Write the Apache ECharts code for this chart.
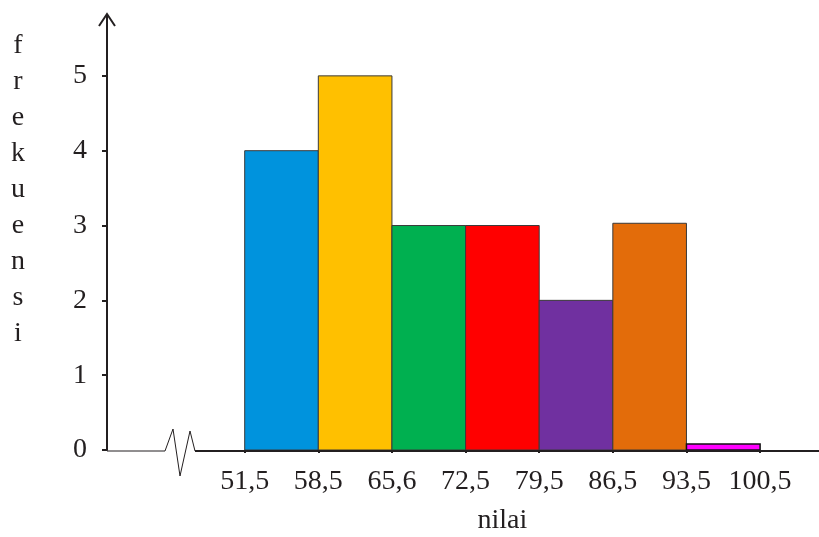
<!DOCTYPE html>
<html>
<head>
<meta charset="utf-8">
<script src="https://cdn.jsdelivr.net/npm/echarts@6/dist/echarts.min.js"></script>
<style>
html,body{margin:0;padding:0;background:#fff;}
#chart{width:819px;height:537px;}
</style>
</head>
<body>
<div id="chart"></div>
<script>
// Data
var edgeLabels = ['51,5', '58,5', '65,6', '72,5', '79,5', '86,5', '93,5', '100,5'];
var frequencies = [4, 5, 3, 3, 2, 3.03, 0.08];
var barColors = ['#0093DD', '#FFC000', '#00B050', '#FF0000', '#7030A0', '#E36C0A', '#FF00FF'];
var yTicks = [0, 1, 2, 3, 4, 5];
var yTitle = 'frekuensi';
var xTitle = 'nilai';

var FONT = '"Liberation Serif", "Times New Roman", serif';
var INK = '#231f20';

var barData = frequencies.map(function (v, i) { return [i, v, i]; });
var edgeIdx = edgeLabels.map(function (_, i) { return i; });

var chart = echarts.init(document.getElementById('chart'), null, { renderer: 'canvas' });

var option = {
  animation: false,
  backgroundColor: '#fff',
  grid: { left: 107, right: 0, top: 16, bottom: 87, containLabel: false, outerBoundsMode: 'none' },
  xAxis: {
    type: 'value',
    min: -1.87,
    max: 7.8,
    splitLine: { show: false },
    axisLine: { show: false },
    axisTick: { show: true, customValues: edgeIdx, length: 3, lineStyle: { color: INK, width: 2 } },
    axisLabel: {
      customValues: edgeIdx,
      formatter: function (v) { return edgeLabels[Math.round(v)]; },
      color: INK, fontFamily: FONT, fontSize: 28, margin: 18
    }
  },
  yAxis: {
    type: 'value',
    min: 0,
    max: 5.8,
    splitLine: { show: false },
    axisLine: { show: true, onZero: false, lineStyle: { color: INK, width: 2 } },
    axisTick: { show: true, customValues: yTicks, length: 5, lineStyle: { color: INK, width: 2 } },
    axisLabel: { customValues: yTicks, color: INK, fontFamily: FONT, fontSize: 28, margin: 20 }
  },
  series: [{
    type: 'custom',
    data: barData,
    encode: { x: 0, y: 1 },
    renderItem: function (params, api) {
      var i = api.value(0), v = api.value(1);
      var p0 = api.coord([i, v]);
      var p1 = api.coord([i + 1, 0]);
      var idx = api.value(2);
      return {
        type: 'rect',
        shape: { x: p0[0], y: p0[1], width: p1[0] - p0[0], height: p1[1] - p0[1] },
        style: { fill: barColors[idx], stroke: idx === 6 ? '#111' : '#3a3a3a', lineWidth: idx === 6 ? 1.5 : 1 }
      };
    }
  }]
};
chart.setOption(option);

// decorations: axis arrow, broken x axis line, vertical y title, x title
var origin = chart.convertToPixel({ gridIndex: 0 }, [-1.87, 0]);
var topPt = chart.convertToPixel({ gridIndex: 0 }, [-1.87, 5.8]);
var midPt = chart.convertToPixel({ gridIndex: 0 }, [3.5, 0]);
var ax = origin[0], ay = origin[1];
var graphics = [];
graphics.push({
  type: 'polyline', z: 10,
  shape: { points: [[ax - 8, topPt[1] + 10], [ax, topPt[1] - 2], [ax + 8, topPt[1] + 10]] },
  style: { stroke: INK, lineWidth: 2, fill: null }
});
graphics.push({
  type: 'polyline', z: 10,
  shape: { points: [[ax, ay + 1], [ax + 58, ay + 1], [ax + 66, ay - 21], [ax + 73, ay + 26], [ax + 83, ay - 19], [ax + 88, ay + 1]] },
  style: { stroke: INK, lineWidth: 1, fill: null }
});
graphics.push({
  type: 'line', z: 10,
  shape: { x1: ax + 88, y1: ay + 1, x2: 819, y2: ay + 1 },
  style: { stroke: INK, lineWidth: 2 }
});
yTitle.split('').forEach(function (ch, k) {
  graphics.push({
    type: 'text', z: 10,
    style: { text: ch, x: 18, y: 46 + k * 36, fill: INK, font: '28px ' + FONT, align: 'center', verticalAlign: 'middle' }
  });
});
graphics.push({
  type: 'text', z: 10,
  style: { text: xTitle, x: midPt[0], y: midPt[1] + 71, fill: INK, font: '28px ' + FONT, align: 'center', verticalAlign: 'middle' }
});
chart.setOption({ graphic: graphics });
</script>
</body>
</html>
